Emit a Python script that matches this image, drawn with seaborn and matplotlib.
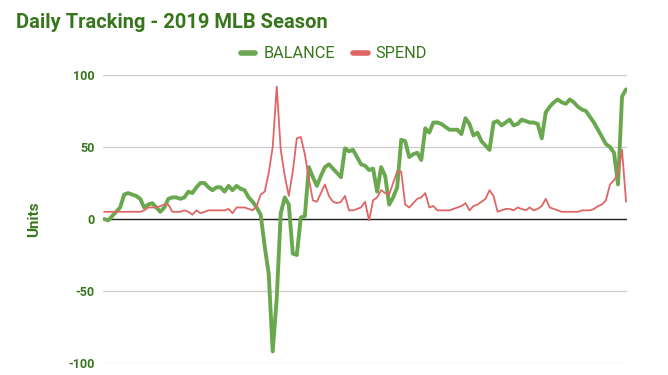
import matplotlib as mpl
import matplotlib.pyplot as plt
import pandas as pd
import seaborn as sns

# Daily values (units)
balance = [
    0, -1, 2, 5, 8, 17, 18, 17, 16, 14,
    8, 10, 11, 8, 5, 8, 14, 15, 15, 14,
    15, 19, 18, 22, 25, 25, 22, 20, 22, 22,
    19, 23, 20, 23, 21, 20, 15, 12, 8, 3,
    -19, -38, -92, -55, 4, 15, 10, -24, -25, 1,
    2, 36, 29, 23, 30, 36, 38, 35, 32, 29,
    49, 47, 48, 43, 38, 37, 34, 35, 19, 36,
    30, 10, 15, 22, 55, 54, 43, 45, 46, 41,
    63, 60, 67, 67, 66, 64, 62, 62, 62, 59,
    70, 66, 58, 60, 54, 51, 48, 67, 68, 65,
    67, 69, 65, 66, 69, 68, 67, 67, 66, 56,
    74, 78, 81, 83, 81, 80, 83, 81, 78, 76,
    75, 71, 67, 62, 57, 52, 50, 46, 24, 85,
    90,
]
spend = [
    5, 5, 5, 5, 5, 5, 5, 5, 5, 5,
    6, 8, 8, 8, 9, 10, 10, 5, 5, 5,
    6, 5, 3, 6, 4, 5, 6, 6, 6, 6,
    6, 7, 4, 8, 8, 8, 7, 6, 9, 17,
    19, 32, 50, 92, 48, 30, 16, 33, 56, 57,
    45, 28, 13, 12, 18, 24, 16, 12, 11, 12,
    16, 6, 6, 7, 8, 12, -1, 13, 15, 20,
    18, 17, 25, 33, 33, 10, 8, 11, 14, 15,
    18, 8, 9, 6, 6, 6, 6, 7, 8, 9,
    11, 6, 9, 10, 12, 14, 20, 16, 5, 6,
    7, 7, 6, 8, 7, 6, 8, 6, 7, 9,
    14, 8, 7, 6, 5, 5, 5, 5, 5, 6,
    6, 6, 7, 9, 10, 13, 24, 27, 31, 48,
    12,
]
series_names = ["BALANCE", "SPEND"]
y_ticks = [-100, -50, 0, 50, 100]

GREEN_TEXT = "#38761d"
palette = {"BALANCE": "#6aa84f", "SPEND": "#e06666"}

days = list(range(len(balance)))
df = pd.DataFrame(
    {
        "day": days * 2,
        "units": balance + spend,
        "series": [series_names[0]] * len(balance) + [series_names[1]] * len(spend),
    }
)

sns.set_theme(style="white")
mpl.rcParams["font.family"] = ["Roboto", "DejaVu Sans"]

fig = plt.figure(figsize=(6.68, 3.75), dpi=100)
ax = fig.add_axes([0.154, 0.032, 0.785, 0.768])

sns.lineplot(
    data=df,
    x="day",
    y="units",
    hue="series",
    palette=palette,
    size="series",
    sizes={"BALANCE": 2.8, "SPEND": 1.3},
    ax=ax,
    legend=False,
)

ax.set_ylim(-100, 100)
ax.set_xlim(-0.3, len(balance) - 0.7)
ax.set_yticks(y_ticks)
ax.set_yticklabels([str(t) for t in y_ticks], color=GREEN_TEXT, fontweight="bold", fontsize=9)
ax.set_xticks([])
ax.tick_params(axis="y", length=0, pad=6)
ax.yaxis.grid(True, color="#cccccc", linewidth=0.9)
ax.set_axisbelow(True)
ax.axhline(0, color="#222222", linewidth=1.0, zorder=1.5)
for s in ax.spines.values():
    s.set_visible(False)

ax.set_xlabel("")
ax.set_ylabel("Units", color=GREEN_TEXT, fontweight="bold", fontsize=11)
ax.yaxis.set_label_coords(-0.118, 0.5)

fig.text(0.024, 0.94, "Daily Tracking - 2019 MLB Season", color=GREEN_TEXT,
         fontweight="bold", fontsize=14.5, va="center", ha="left")

handles = [
    mpl.lines.Line2D([], [], color=palette[n], linewidth=4) for n in series_names
]
fig.legend(
    handles,
    series_names,
    loc="center",
    bbox_to_anchor=(0.5, 0.856),
    ncol=2,
    frameon=False,
    fontsize=11.7,
    labelcolor=GREEN_TEXT,
    handlelength=0.9,
    handletextpad=0.5,
    columnspacing=1.1,
)

fig.savefig("out.png", dpi=100)
